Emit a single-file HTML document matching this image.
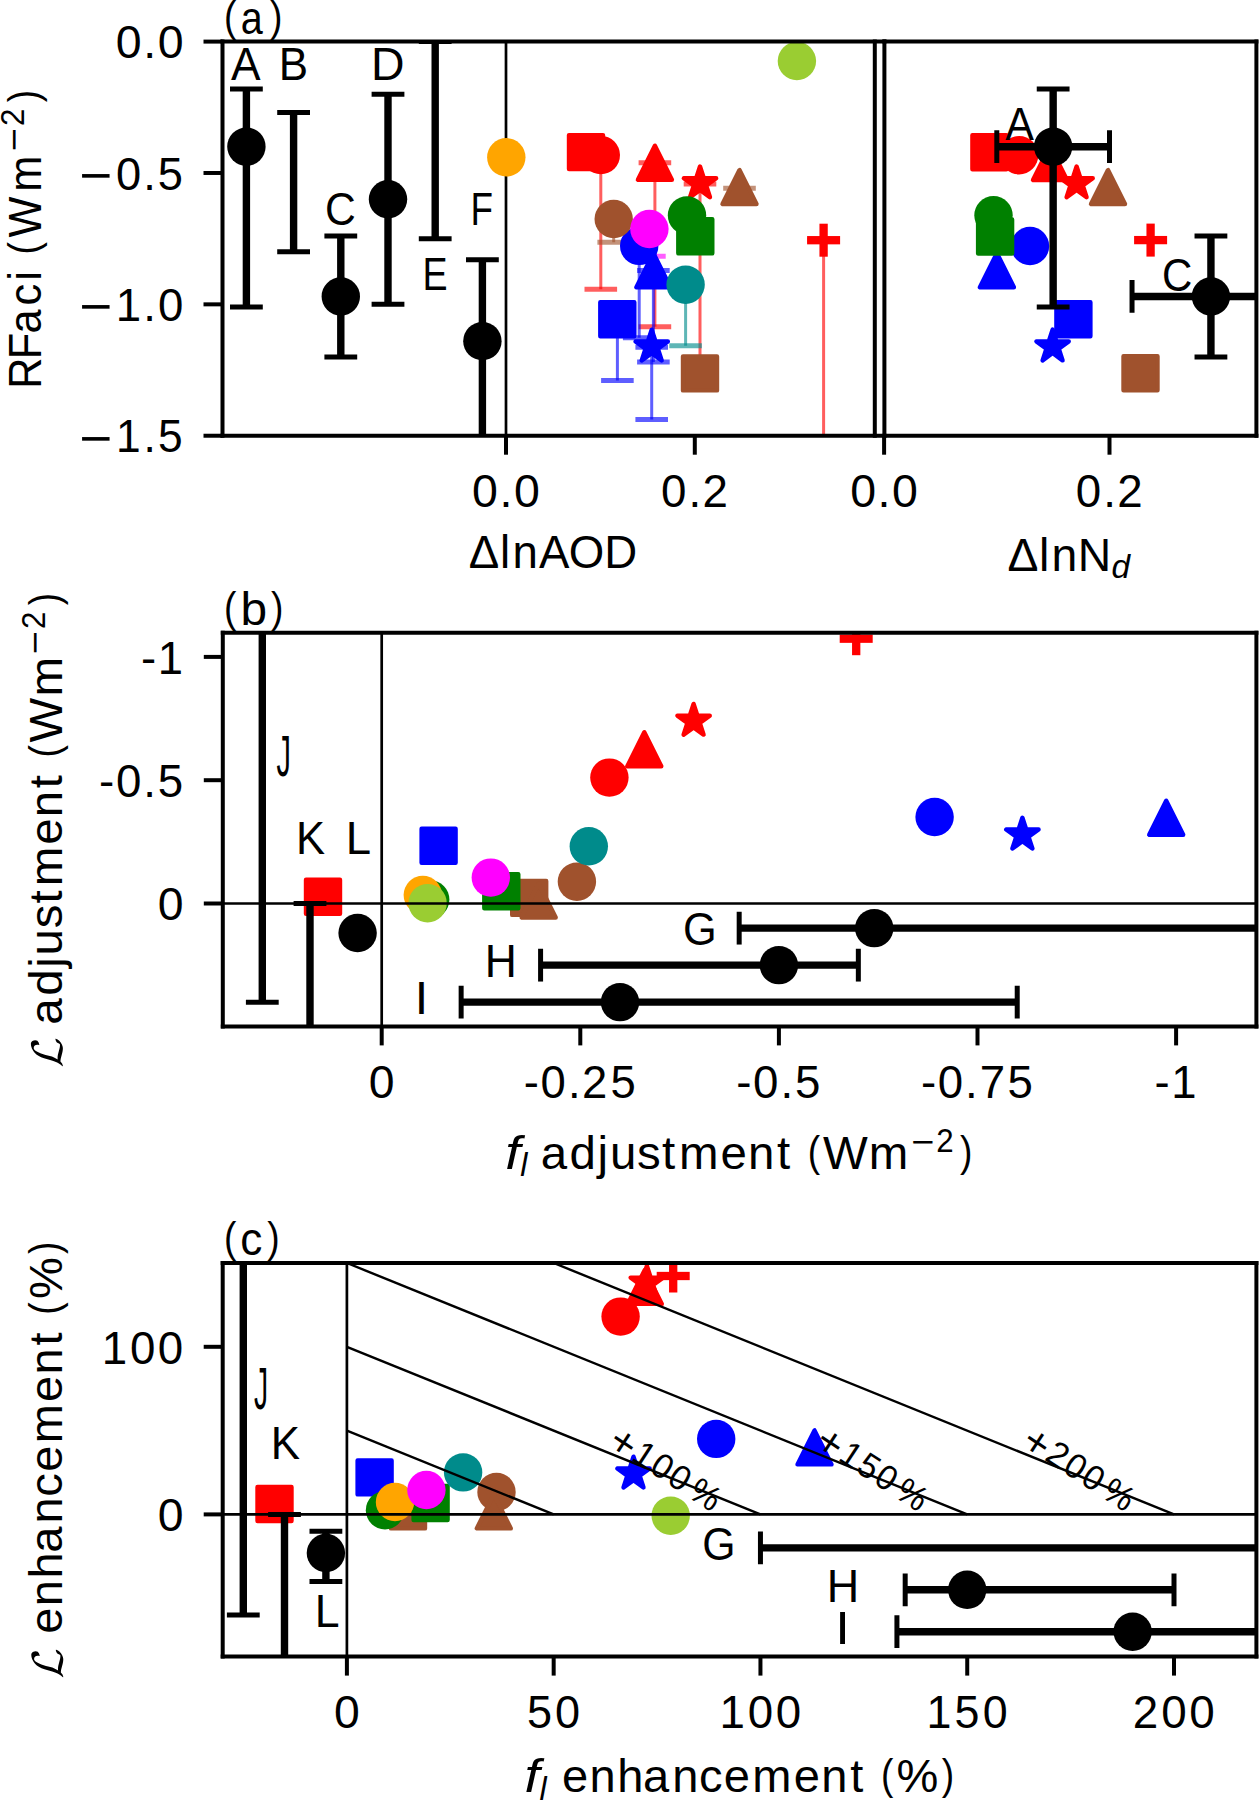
<!DOCTYPE html>
<html><head><meta charset="utf-8"><title>Figure</title><style>html,body{margin:0;padding:0;background:#fff;}svg{display:block;}text{font-family:"Liberation Sans",sans-serif;}</style></head><body>
<svg width="1259" height="1800" viewBox="0 0 1259 1800" font-family="'Liberation Sans', sans-serif" style="font-kerning:none"><defs><clipPath id="c1"><rect x="222.5" y="41.6" width="652.3" height="394.1"/></clipPath><clipPath id="c2"><rect x="884.4" y="41.6" width="372" height="394.1"/></clipPath><clipPath id="c3"><rect x="222.8" y="632.8" width="1033.6" height="393.6"/></clipPath><clipPath id="c4"><rect x="222.7" y="1263" width="1033.7" height="393.6"/></clipPath></defs><rect width="100%" height="100%" fill="#fff"/><g clip-path="url(#c1)"><line x1="506" y1="41.6" x2="506" y2="435.7" stroke="#000" stroke-width="2.7" stroke-linecap="butt"/><line x1="600.8" y1="155.1" x2="600.8" y2="289.2" stroke="#ff0000" stroke-width="3" stroke-linecap="butt" stroke-opacity="0.63"/><line x1="584.5" y1="289.2" x2="617.1" y2="289.2" stroke="#ff0000" stroke-width="5" stroke-linecap="butt" stroke-opacity="0.63"/><line x1="654.9" y1="162.8" x2="654.9" y2="326.8" stroke="#ff0000" stroke-width="3" stroke-linecap="butt" stroke-opacity="0.63"/><line x1="638.6" y1="162.7" x2="671.2" y2="162.7" stroke="#ff0000" stroke-width="5" stroke-linecap="butt" stroke-opacity="0.63"/><line x1="638.6" y1="326.8" x2="671.2" y2="326.8" stroke="#ff0000" stroke-width="5" stroke-linecap="butt" stroke-opacity="0.63"/><line x1="700" y1="183.5" x2="700" y2="373" stroke="#ff0000" stroke-width="3" stroke-linecap="butt" stroke-opacity="0.63"/><line x1="683.7" y1="183.9" x2="716.3" y2="183.9" stroke="#ff0000" stroke-width="5" stroke-linecap="butt" stroke-opacity="0.63"/><line x1="683.7" y1="373" x2="716.3" y2="373" stroke="#ff0000" stroke-width="5" stroke-linecap="butt" stroke-opacity="0.63"/><line x1="823.6" y1="240.2" x2="823.6" y2="460" stroke="#ff0000" stroke-width="3" stroke-linecap="butt" stroke-opacity="0.63"/><line x1="807.3" y1="240.2" x2="839.9" y2="240.2" stroke="#ff0000" stroke-width="5" stroke-linecap="butt" stroke-opacity="0.63"/><line x1="639.2" y1="245.9" x2="639.2" y2="337.8" stroke="#0000ff" stroke-width="3" stroke-linecap="butt" stroke-opacity="0.63"/><line x1="622.9" y1="337.8" x2="655.5" y2="337.8" stroke="#0000ff" stroke-width="5" stroke-linecap="butt" stroke-opacity="0.63"/><line x1="617.4" y1="319.3" x2="617.4" y2="380.6" stroke="#0000ff" stroke-width="3" stroke-linecap="butt" stroke-opacity="0.63"/><line x1="601.1" y1="380.6" x2="633.7" y2="380.6" stroke="#0000ff" stroke-width="5" stroke-linecap="butt" stroke-opacity="0.63"/><line x1="653.4" y1="270.2" x2="653.4" y2="362" stroke="#0000ff" stroke-width="3" stroke-linecap="butt" stroke-opacity="0.63"/><line x1="637.1" y1="270.4" x2="669.7" y2="270.4" stroke="#0000ff" stroke-width="5" stroke-linecap="butt" stroke-opacity="0.63"/><line x1="637.1" y1="362" x2="669.7" y2="362" stroke="#0000ff" stroke-width="5" stroke-linecap="butt" stroke-opacity="0.63"/><line x1="651.7" y1="346.7" x2="651.7" y2="419.5" stroke="#0000ff" stroke-width="3" stroke-linecap="butt" stroke-opacity="0.63"/><line x1="635.4" y1="347.3" x2="668" y2="347.3" stroke="#0000ff" stroke-width="5" stroke-linecap="butt" stroke-opacity="0.63"/><line x1="635.4" y1="419.5" x2="668" y2="419.5" stroke="#0000ff" stroke-width="5" stroke-linecap="butt" stroke-opacity="0.63"/><line x1="613.7" y1="219" x2="613.7" y2="242.3" stroke="#a0522d" stroke-width="3" stroke-linecap="butt" stroke-opacity="0.63"/><line x1="597.4" y1="242.3" x2="630" y2="242.3" stroke="#a0522d" stroke-width="5" stroke-linecap="butt" stroke-opacity="0.63"/><line x1="739.5" y1="187.1" x2="739.5" y2="187.1" stroke="#a0522d" stroke-width="3" stroke-linecap="butt" stroke-opacity="0.63"/><line x1="723.2" y1="188.2" x2="755.8" y2="188.2" stroke="#a0522d" stroke-width="5" stroke-linecap="butt" stroke-opacity="0.63"/><line x1="649.4" y1="229" x2="649.4" y2="256.3" stroke="#ff00ff" stroke-width="3" stroke-linecap="butt" stroke-opacity="0.63"/><line x1="633.1" y1="256.3" x2="665.7" y2="256.3" stroke="#ff00ff" stroke-width="5" stroke-linecap="butt" stroke-opacity="0.63"/><line x1="685.6" y1="284.7" x2="685.6" y2="345.8" stroke="#008b8b" stroke-width="3" stroke-linecap="butt" stroke-opacity="0.63"/><line x1="669.3" y1="345.8" x2="701.9" y2="345.8" stroke="#008b8b" stroke-width="5" stroke-linecap="butt" stroke-opacity="0.63"/><rect x="569" y="135.1" width="34" height="34" fill="#ff0000" stroke="#ff0000" stroke-width="4.4" stroke-linejoin="round"/><circle cx="600.8" cy="155.1" r="19.2" fill="#ff0000"/><polygon points="654.9,145.8 637.9,179.8 671.9,179.8" fill="#ff0000" stroke="#ff0000" stroke-width="4.4" stroke-linejoin="round"/><polygon points="700,166.5 703.82,178.25 716.17,178.25 706.18,185.51 709.99,197.25 700,189.99 690.01,197.25 693.82,185.51 683.83,178.25 696.18,178.25" fill="#ff0000" stroke="#ff0000" stroke-width="4.4" stroke-linejoin="round"/><rect x="807.1" y="236.05" width="33" height="8.3" fill="#ff0000"/><rect x="819.45" y="223.7" width="8.3" height="33" fill="#ff0000"/><circle cx="639.2" cy="245.9" r="19.2" fill="#0000ff"/><rect x="600.3" y="302.3" width="34" height="34" fill="#0000ff" stroke="#0000ff" stroke-width="4.4" stroke-linejoin="round"/><polygon points="653.4,253.2 636.4,287.2 670.4,287.2" fill="#0000ff" stroke="#0000ff" stroke-width="4.4" stroke-linejoin="round"/><polygon points="651.7,329.7 655.52,341.45 667.87,341.45 657.88,348.71 661.69,360.45 651.7,353.19 641.71,360.45 645.52,348.71 635.53,341.45 647.88,341.45" fill="#0000ff" stroke="#0000ff" stroke-width="4.4" stroke-linejoin="round"/><circle cx="613.7" cy="219" r="19.2" fill="#a0522d"/><polygon points="739.5,170.1 722.5,204.1 756.5,204.1" fill="#a0522d" stroke="#a0522d" stroke-width="4.4" stroke-linejoin="round"/><rect x="683" y="356.4" width="34" height="34" fill="#a0522d" stroke="#a0522d" stroke-width="4.4" stroke-linejoin="round"/><circle cx="687" cy="215.4" r="19.2" fill="#008000"/><rect x="678.3" y="219.3" width="34" height="34" fill="#008000" stroke="#008000" stroke-width="4.4" stroke-linejoin="round"/><circle cx="506.3" cy="157.3" r="19.2" fill="#ffa500"/><circle cx="649.4" cy="229" r="19.2" fill="#ff00ff"/><circle cx="685.6" cy="284.7" r="19.2" fill="#008b8b"/><circle cx="796.9" cy="61" r="19.2" fill="#9acd32"/><line x1="246.4" y1="88.9" x2="246.4" y2="306.98" stroke="#000" stroke-width="7.4" stroke-linecap="butt"/><line x1="230" y1="88.9" x2="262.8" y2="88.9" stroke="#000" stroke-width="5" stroke-linecap="butt"/><line x1="230" y1="306.98" x2="262.8" y2="306.98" stroke="#000" stroke-width="5" stroke-linecap="butt"/><circle cx="246.4" cy="146.7" r="19.2" fill="#000"/><line x1="293.6" y1="112.54" x2="293.6" y2="251.8" stroke="#000" stroke-width="7.4" stroke-linecap="butt"/><line x1="277.2" y1="112.54" x2="310" y2="112.54" stroke="#000" stroke-width="5" stroke-linecap="butt"/><line x1="277.2" y1="251.8" x2="310" y2="251.8" stroke="#000" stroke-width="5" stroke-linecap="butt"/><line x1="340.8" y1="236.03" x2="340.8" y2="356.9" stroke="#000" stroke-width="7.4" stroke-linecap="butt"/><line x1="324.4" y1="236.03" x2="357.2" y2="236.03" stroke="#000" stroke-width="5" stroke-linecap="butt"/><line x1="324.4" y1="356.9" x2="357.2" y2="356.9" stroke="#000" stroke-width="5" stroke-linecap="butt"/><circle cx="340.8" cy="296.47" r="19.2" fill="#000"/><line x1="388" y1="94.15" x2="388" y2="304.35" stroke="#000" stroke-width="7.4" stroke-linecap="butt"/><line x1="371.6" y1="94.15" x2="404.4" y2="94.15" stroke="#000" stroke-width="5" stroke-linecap="butt"/><line x1="371.6" y1="304.35" x2="404.4" y2="304.35" stroke="#000" stroke-width="5" stroke-linecap="butt"/><circle cx="388" cy="199.25" r="19.2" fill="#000"/><line x1="435.2" y1="41.6" x2="435.2" y2="238.66" stroke="#000" stroke-width="7.4" stroke-linecap="butt"/><line x1="418.8" y1="41.6" x2="451.6" y2="41.6" stroke="#000" stroke-width="5" stroke-linecap="butt"/><line x1="418.8" y1="238.66" x2="451.6" y2="238.66" stroke="#000" stroke-width="5" stroke-linecap="butt"/><line x1="482.4" y1="259.68" x2="482.4" y2="462" stroke="#000" stroke-width="7.4" stroke-linecap="butt"/><line x1="466" y1="259.68" x2="498.8" y2="259.68" stroke="#000" stroke-width="5" stroke-linecap="butt"/><circle cx="482.4" cy="341.13" r="19.2" fill="#000"/></g>
<g clip-path="url(#c2)"><rect x="972.4" y="135.2" width="34" height="34" fill="#ff0000" stroke="#ff0000" stroke-width="4.4" stroke-linejoin="round"/><circle cx="1019.1" cy="155.2" r="19.2" fill="#ff0000"/><polygon points="1050,146 1033,180 1067,180" fill="#ff0000" stroke="#ff0000" stroke-width="4.4" stroke-linejoin="round"/><polygon points="1076.6,166.5 1080.42,178.25 1092.77,178.25 1082.78,185.51 1086.59,197.25 1076.6,189.99 1066.61,197.25 1070.42,185.51 1060.43,178.25 1072.78,178.25" fill="#ff0000" stroke="#ff0000" stroke-width="4.4" stroke-linejoin="round"/><rect x="1134.1" y="235.95" width="33" height="8.3" fill="#ff0000"/><rect x="1146.45" y="223.6" width="8.3" height="33" fill="#ff0000"/><circle cx="1030" cy="246" r="19.2" fill="#0000ff"/><polygon points="996.9,253.2 979.9,287.2 1013.9,287.2" fill="#0000ff" stroke="#0000ff" stroke-width="4.4" stroke-linejoin="round"/><rect x="1056.4" y="302.3" width="34" height="34" fill="#0000ff" stroke="#0000ff" stroke-width="4.4" stroke-linejoin="round"/><polygon points="1052.6,329.6 1056.42,341.35 1068.77,341.35 1058.78,348.61 1062.59,360.35 1052.6,353.09 1042.61,360.35 1046.42,348.61 1036.43,341.35 1048.78,341.35" fill="#0000ff" stroke="#0000ff" stroke-width="4.4" stroke-linejoin="round"/><polygon points="1108,170.1 1091,204.1 1125,204.1" fill="#a0522d" stroke="#a0522d" stroke-width="4.4" stroke-linejoin="round"/><rect x="1123.5" y="356.3" width="34" height="34" fill="#a0522d" stroke="#a0522d" stroke-width="4.4" stroke-linejoin="round"/><circle cx="993.5" cy="215.3" r="19.2" fill="#008000"/><rect x="978.1" y="219.5" width="34" height="34" fill="#008000" stroke="#008000" stroke-width="4.4" stroke-linejoin="round"/><line x1="1053.15" y1="88.9" x2="1053.15" y2="306.98" stroke="#000" stroke-width="7.4" stroke-linecap="butt"/><line x1="1036.75" y1="88.9" x2="1069.55" y2="88.9" stroke="#000" stroke-width="5" stroke-linecap="butt"/><line x1="1036.75" y1="306.98" x2="1069.55" y2="306.98" stroke="#000" stroke-width="5" stroke-linecap="butt"/><line x1="996.8" y1="146.7" x2="1109.5" y2="146.7" stroke="#000" stroke-width="7.4" stroke-linecap="butt"/><line x1="996.8" y1="130.3" x2="996.8" y2="163.1" stroke="#000" stroke-width="5" stroke-linecap="butt"/><line x1="1109.5" y1="130.3" x2="1109.5" y2="163.1" stroke="#000" stroke-width="5" stroke-linecap="butt"/><circle cx="1053.15" cy="146.7" r="19.2" fill="#000"/><line x1="1210.93" y1="236.03" x2="1210.93" y2="356.9" stroke="#000" stroke-width="7.4" stroke-linecap="butt"/><line x1="1194.53" y1="236.03" x2="1227.33" y2="236.03" stroke="#000" stroke-width="5" stroke-linecap="butt"/><line x1="1194.53" y1="356.9" x2="1227.33" y2="356.9" stroke="#000" stroke-width="5" stroke-linecap="butt"/><line x1="1132.04" y1="296.47" x2="1289.82" y2="296.47" stroke="#000" stroke-width="7.4" stroke-linecap="butt"/><line x1="1132.04" y1="280.07" x2="1132.04" y2="312.87" stroke="#000" stroke-width="5" stroke-linecap="butt"/><circle cx="1210.93" cy="296.47" r="19.2" fill="#000"/></g>
<line x1="222.5" y1="39.6" x2="222.5" y2="437.7" stroke="#000" stroke-width="4" stroke-linecap="butt"/><line x1="220.5" y1="41.6" x2="886.4" y2="41.6" stroke="#000" stroke-width="4" stroke-linecap="butt"/><line x1="220.5" y1="435.7" x2="886.4" y2="435.7" stroke="#000" stroke-width="4" stroke-linecap="butt"/>
<line x1="874.8" y1="39.6" x2="874.8" y2="437.7" stroke="#000" stroke-width="4" stroke-linecap="butt"/>
<line x1="884.4" y1="39.6" x2="884.4" y2="437.7" stroke="#000" stroke-width="4" stroke-linecap="butt"/><line x1="1256.4" y1="39.6" x2="1256.4" y2="437.7" stroke="#000" stroke-width="4" stroke-linecap="butt"/><line x1="882.4" y1="41.6" x2="1258.4" y2="41.6" stroke="#000" stroke-width="4" stroke-linecap="butt"/><line x1="882.4" y1="435.7" x2="1258.4" y2="435.7" stroke="#000" stroke-width="4" stroke-linecap="butt"/>
<line x1="203.5" y1="41.6" x2="222.5" y2="41.6" stroke="#000" stroke-width="4" stroke-linecap="butt"/><text transform="translate(0 58.30) scale(0.9972 1)" x="116.00 143.53 158.10" font-size="46.62">0.0</text>
<line x1="203.5" y1="172.97" x2="222.5" y2="172.97" stroke="#000" stroke-width="4" stroke-linecap="butt"/><text transform="translate(79.62 192.92) scale(1.2160 1.0989)" font-size="46.62">−</text><text transform="translate(0 189.67) scale(0.9719 1)" x="119.36 147.44 162.38" font-size="46.62">0.5</text>
<line x1="203.5" y1="304.35" x2="222.5" y2="304.35" stroke="#000" stroke-width="4" stroke-linecap="butt"/><text transform="translate(79.62 324.29) scale(1.2160 1.0989)" font-size="46.62">−</text><text transform="translate(0 321.05) scale(0.9782 1)" x="118.29 146.45 161.44" font-size="46.62">1.0</text>
<line x1="203.5" y1="435.73" x2="222.5" y2="435.73" stroke="#000" stroke-width="4" stroke-linecap="butt"/><text transform="translate(79.62 455.67) scale(1.2160 1.0989)" font-size="46.62">−</text><text transform="translate(0 452.43) scale(0.9516 1)" x="121.97 150.72 166.13" font-size="46.62">1.5</text>
<line x1="506" y1="435.7" x2="506" y2="454.7" stroke="#000" stroke-width="4" stroke-linecap="butt"/><text transform="translate(0 507.00) scale(0.9972 1)" x="473.38 500.90 515.48" font-size="46.62">0.0</text>
<line x1="694.8" y1="435.7" x2="694.8" y2="454.7" stroke="#000" stroke-width="4" stroke-linecap="butt"/><text transform="translate(0 507.00) scale(0.9814 1)" x="673.62 701.48 715.80" font-size="46.62">0.2</text>
<line x1="884.1" y1="435.7" x2="884.1" y2="454.7" stroke="#000" stroke-width="4" stroke-linecap="butt"/><text transform="translate(0 507.00) scale(0.9972 1)" x="852.53 880.05 894.62" font-size="46.62">0.0</text>
<line x1="1109.5" y1="435.7" x2="1109.5" y2="454.7" stroke="#000" stroke-width="4" stroke-linecap="butt"/><text transform="translate(0 507.00) scale(0.9814 1)" x="1096.18 1124.05 1138.37" font-size="46.62">0.2</text>
<text transform="translate(231.01 79.70) scale(0.9510 1.0000)" font-size="46.62">A</text>
<text transform="translate(278.79 79.70) scale(0.9430 1.0000)" font-size="46.62">B</text>
<text transform="translate(371.09 79.70) scale(0.9959 1.0000)" font-size="46.62">D</text>
<text transform="translate(325.04 224.60) scale(0.9145 1.0000)" font-size="46.62">C</text>
<text transform="translate(470.48 224.60) scale(0.7899 1.0000)" font-size="46.62">F</text>
<text transform="translate(422.51 290.00) scale(0.8073 1.0000)" font-size="46.62">E</text>
<text transform="translate(1005.32 140.00) scale(0.9219 1.0000)" font-size="46.62">A</text>
<text transform="translate(1162.07 290.70) scale(0.9009 1.0000)" font-size="46.62">C</text>
<g clip-path="url(#c3)"><circle cx="609.4" cy="777.6" r="19.2" fill="#ff0000"/><polygon points="644.3,732.3 627.3,766.3 661.3,766.3" fill="#ff0000" stroke="#ff0000" stroke-width="4.4" stroke-linejoin="round"/><polygon points="693.6,703.9 697.42,715.65 709.77,715.65 699.78,722.91 703.59,734.65 693.6,727.39 683.61,734.65 687.42,722.91 677.43,715.65 689.78,715.65" fill="#ff0000" stroke="#ff0000" stroke-width="4.4" stroke-linejoin="round"/><rect x="839.7" y="634.55" width="33" height="8.3" fill="#ff0000"/><rect x="852.05" y="622.2" width="8.3" height="33" fill="#ff0000"/><rect x="306" y="879.7" width="34" height="34" fill="#ff0000" stroke="#ff0000" stroke-width="4.4" stroke-linejoin="round"/><rect x="421.6" y="828.7" width="34" height="34" fill="#0000ff" stroke="#0000ff" stroke-width="4.4" stroke-linejoin="round"/><circle cx="934.6" cy="817" r="19.2" fill="#0000ff"/><polygon points="1022.4,817.8 1026.22,829.55 1038.57,829.55 1028.58,836.81 1032.39,848.55 1022.4,841.29 1012.41,848.55 1016.22,836.81 1006.23,829.55 1018.58,829.55" fill="#0000ff" stroke="#0000ff" stroke-width="4.4" stroke-linejoin="round"/><polygon points="1166.2,800.7 1149.2,834.7 1183.2,834.7" fill="#0000ff" stroke="#0000ff" stroke-width="4.4" stroke-linejoin="round"/><rect x="512.2" y="880.9" width="34" height="34" fill="#a0522d" stroke="#a0522d" stroke-width="4.4" stroke-linejoin="round"/><polygon points="538.7,883.6 521.7,917.6 555.7,917.6" fill="#a0522d" stroke="#a0522d" stroke-width="4.4" stroke-linejoin="round"/><circle cx="576.9" cy="881.7" r="19.2" fill="#a0522d"/><circle cx="430.2" cy="899.6" r="19.2" fill="#008000"/><rect x="484.3" y="874.2" width="34" height="34" fill="#008000" stroke="#008000" stroke-width="4.4" stroke-linejoin="round"/><circle cx="422.8" cy="895" r="19.2" fill="#ffa500"/><circle cx="490.8" cy="877.6" r="19.2" fill="#ff00ff"/><circle cx="588.8" cy="846.3" r="19.2" fill="#008b8b"/><circle cx="427.6" cy="903.2" r="19.2" fill="#9acd32"/><circle cx="357.6" cy="933" r="19.2" fill="#000"/><line x1="739.18" y1="928.16" x2="1414.42" y2="928.16" stroke="#000" stroke-width="7.4" stroke-linecap="butt"/><line x1="739.18" y1="911.76" x2="739.18" y2="944.56" stroke="#000" stroke-width="5" stroke-linecap="butt"/><circle cx="874.23" cy="928.16" r="19.2" fill="#000"/><line x1="540.58" y1="965.15" x2="858.34" y2="965.15" stroke="#000" stroke-width="7.4" stroke-linecap="butt"/><line x1="540.58" y1="948.75" x2="540.58" y2="981.55" stroke="#000" stroke-width="5" stroke-linecap="butt"/><line x1="858.34" y1="948.75" x2="858.34" y2="981.55" stroke="#000" stroke-width="5" stroke-linecap="butt"/><circle cx="778.9" cy="965.15" r="19.2" fill="#000"/><line x1="461.14" y1="1002.14" x2="1017.22" y2="1002.14" stroke="#000" stroke-width="7.4" stroke-linecap="butt"/><line x1="461.14" y1="985.74" x2="461.14" y2="1018.54" stroke="#000" stroke-width="5" stroke-linecap="butt"/><line x1="1017.22" y1="985.74" x2="1017.22" y2="1018.54" stroke="#000" stroke-width="5" stroke-linecap="butt"/><circle cx="620.02" cy="1002.14" r="19.2" fill="#000"/><line x1="262.3" y1="622.8" x2="262.3" y2="1002.14" stroke="#000" stroke-width="7.4" stroke-linecap="butt"/><line x1="245.9" y1="1002.14" x2="278.7" y2="1002.14" stroke="#000" stroke-width="5" stroke-linecap="butt"/><line x1="310" y1="903.5" x2="310" y2="1036.4" stroke="#000" stroke-width="7.4" stroke-linecap="butt"/><line x1="293.6" y1="903.5" x2="326.4" y2="903.5" stroke="#000" stroke-width="5" stroke-linecap="butt"/><line x1="222.8" y1="903.5" x2="1256.4" y2="903.5" stroke="#000" stroke-width="2.7" stroke-linecap="butt"/><line x1="381.7" y1="632.8" x2="381.7" y2="1026.4" stroke="#000" stroke-width="2.7" stroke-linecap="butt"/></g>
<line x1="222.8" y1="630.8" x2="222.8" y2="1028.4" stroke="#000" stroke-width="4" stroke-linecap="butt"/><line x1="1256.4" y1="630.8" x2="1256.4" y2="1028.4" stroke="#000" stroke-width="4" stroke-linecap="butt"/><line x1="220.8" y1="632.8" x2="1258.4" y2="632.8" stroke="#000" stroke-width="4" stroke-linecap="butt"/><line x1="220.8" y1="1026.4" x2="1258.4" y2="1026.4" stroke="#000" stroke-width="4" stroke-linecap="butt"/>
<line x1="203.8" y1="656.9" x2="222.8" y2="656.9" stroke="#000" stroke-width="4" stroke-linecap="butt"/><text transform="translate(0 673.60) scale(0.9745 1)" x="144.80 161.87" y="0.33 0.00" font-size="46.62">-1</text>
<line x1="203.8" y1="780.2" x2="222.8" y2="780.2" stroke="#000" stroke-width="4" stroke-linecap="butt"/><text transform="translate(0 796.90) scale(0.9805 1)" x="101.04 118.20 146.09 160.85" y="0.33 0.00 0.00 0.00" font-size="46.62">-0.5</text>
<line x1="203.8" y1="903.5" x2="222.8" y2="903.5" stroke="#000" stroke-width="4" stroke-linecap="butt"/><text transform="translate(0 920.20) scale(0.9949 1)" x="158.51" font-size="46.62">0</text>
<line x1="381.7" y1="1026.4" x2="381.7" y2="1045.4" stroke="#000" stroke-width="4" stroke-linecap="butt"/><text transform="translate(0 1097.80) scale(0.9949 1)" x="370.70" font-size="46.62">0</text>
<line x1="580.3" y1="1026.4" x2="580.3" y2="1045.4" stroke="#000" stroke-width="4" stroke-linecap="butt"/><text transform="translate(0 1097.80) scale(0.9749 1)" x="537.24 554.53 582.54 597.00 626.13" y="0.33 0.00 0.00 0.00 0.00" font-size="46.62">-0.25</text>
<line x1="778.9" y1="1026.4" x2="778.9" y2="1045.4" stroke="#000" stroke-width="4" stroke-linecap="butt"/><text transform="translate(0 1097.80) scale(0.9805 1)" x="750.94 768.10 795.98 810.74" y="0.33 0.00 0.00 0.00" font-size="46.62">-0.5</text>
<line x1="977.5" y1="1026.4" x2="977.5" y2="1045.4" stroke="#000" stroke-width="4" stroke-linecap="butt"/><text transform="translate(0 1097.80) scale(0.9786 1)" x="941.06 958.26 986.19 1001.07 1029.60" y="0.33 0.00 0.00 0.00 0.00" font-size="46.62">-0.75</text>
<line x1="1176.1" y1="1026.4" x2="1176.1" y2="1045.4" stroke="#000" stroke-width="4" stroke-linecap="butt"/><text transform="translate(0 1097.80) scale(0.9745 1)" x="1184.79 1201.86" y="0.33 0.00" font-size="46.62">-1</text>
<text transform="translate(276.45 775.64) scale(0.6171 1.2388)" font-size="46.62">J</text>
<text transform="translate(295.93 854.10) scale(0.9346 1.0000)" font-size="46.62">K</text>
<text transform="translate(345.76 854.10) scale(0.9778 1.0000)" font-size="46.62">L</text>
<text transform="translate(683.02 945.20) scale(0.9298 1.0000)" font-size="46.62">G</text>
<text transform="translate(484.76 976.90) scale(0.9523 1.0000)" font-size="46.62">H</text>
<text transform="translate(414.85 1014.20) scale(1.0349 1.0000)" font-size="46.62">I</text>
<g clip-path="url(#c4)"><circle cx="620.6" cy="1316.6" r="19.2" fill="#ff0000"/><polygon points="644.8,1269.9 627.8,1303.9 661.8,1303.9" fill="#ff0000" stroke="#ff0000" stroke-width="4.4" stroke-linejoin="round"/><polygon points="646.9,1265.9 650.72,1277.65 663.07,1277.65 653.08,1284.91 656.89,1296.65 646.9,1289.39 636.91,1296.65 640.72,1284.91 630.73,1277.65 643.08,1277.65" fill="#ff0000" stroke="#ff0000" stroke-width="4.4" stroke-linejoin="round"/><rect x="656.7" y="1271.85" width="33" height="8.3" fill="#ff0000"/><rect x="669.05" y="1259.5" width="8.3" height="33" fill="#ff0000"/><rect x="257.5" y="1487" width="34" height="34" fill="#ff0000" stroke="#ff0000" stroke-width="4.4" stroke-linejoin="round"/><rect x="357.6" y="1460.4" width="34" height="34" fill="#0000ff" stroke="#0000ff" stroke-width="4.4" stroke-linejoin="round"/><circle cx="716.2" cy="1438.9" r="19.2" fill="#0000ff"/><polygon points="633.5,1456.7 637.32,1468.45 649.67,1468.45 639.68,1475.71 643.49,1487.45 633.5,1480.19 623.51,1487.45 627.32,1475.71 617.33,1468.45 629.68,1468.45" fill="#0000ff" stroke="#0000ff" stroke-width="4.4" stroke-linejoin="round"/><polygon points="814.5,1430.4 797.5,1464.4 831.5,1464.4" fill="#0000ff" stroke="#0000ff" stroke-width="4.4" stroke-linejoin="round"/><rect x="391" y="1494.4" width="34" height="34" fill="#a0522d" stroke="#a0522d" stroke-width="4.4" stroke-linejoin="round"/><circle cx="496.5" cy="1492" r="19.2" fill="#a0522d"/><polygon points="493.8,1494.4 476.8,1528.4 510.8,1528.4" fill="#a0522d" stroke="#a0522d" stroke-width="4.4" stroke-linejoin="round"/><circle cx="385" cy="1510.2" r="19.2" fill="#008000"/><rect x="413.6" y="1486" width="34" height="34" fill="#008000" stroke="#008000" stroke-width="4.4" stroke-linejoin="round"/><circle cx="395" cy="1502" r="19.2" fill="#ffa500"/><circle cx="426.4" cy="1490" r="19.2" fill="#ff00ff"/><circle cx="463.1" cy="1472.4" r="19.2" fill="#008b8b"/><circle cx="670.7" cy="1515.7" r="19.2" fill="#9acd32"/><line x1="325.9" y1="1531.3" x2="325.9" y2="1581.4" stroke="#000" stroke-width="7.4" stroke-linecap="butt"/><line x1="309.5" y1="1531.3" x2="342.3" y2="1531.3" stroke="#000" stroke-width="5" stroke-linecap="butt"/><line x1="309.5" y1="1581.4" x2="342.3" y2="1581.4" stroke="#000" stroke-width="5" stroke-linecap="butt"/><circle cx="325.9" cy="1553" r="19.2" fill="#000"/><line x1="760.45" y1="1547.92" x2="1422.13" y2="1547.92" stroke="#000" stroke-width="7.4" stroke-linecap="butt"/><line x1="760.45" y1="1531.52" x2="760.45" y2="1564.32" stroke="#000" stroke-width="5" stroke-linecap="butt"/><line x1="905.19" y1="1589.82" x2="1174" y2="1589.82" stroke="#000" stroke-width="7.4" stroke-linecap="butt"/><line x1="905.19" y1="1573.42" x2="905.19" y2="1606.22" stroke="#000" stroke-width="5" stroke-linecap="butt"/><line x1="1174" y1="1573.42" x2="1174" y2="1606.22" stroke="#000" stroke-width="5" stroke-linecap="butt"/><circle cx="967.23" cy="1589.82" r="19.2" fill="#000"/><line x1="896.92" y1="1631.72" x2="1422.13" y2="1631.72" stroke="#000" stroke-width="7.4" stroke-linecap="butt"/><line x1="896.92" y1="1615.32" x2="896.92" y2="1648.12" stroke="#000" stroke-width="5" stroke-linecap="butt"/><circle cx="1132.64" cy="1631.72" r="19.2" fill="#000"/><line x1="243.3" y1="1253" x2="243.3" y2="1614.96" stroke="#000" stroke-width="7.4" stroke-linecap="butt"/><line x1="226.9" y1="1614.96" x2="259.7" y2="1614.96" stroke="#000" stroke-width="5" stroke-linecap="butt"/><line x1="284.5" y1="1514.4" x2="284.5" y2="1666.6" stroke="#000" stroke-width="7.4" stroke-linecap="butt"/><line x1="268.1" y1="1514.4" x2="300.9" y2="1514.4" stroke="#000" stroke-width="5" stroke-linecap="butt"/><line x1="346.9" y1="1430.6" x2="553.67" y2="1514.4" stroke="#000" stroke-width="2.4" stroke-linecap="butt"/><line x1="346.9" y1="1346.8" x2="760.45" y2="1514.4" stroke="#000" stroke-width="2.4" stroke-linecap="butt"/><line x1="346.9" y1="1263" x2="967.23" y2="1514.4" stroke="#000" stroke-width="2.4" stroke-linecap="butt"/><line x1="553.67" y1="1263" x2="1174" y2="1514.4" stroke="#000" stroke-width="2.4" stroke-linecap="butt"/><line x1="222.7" y1="1514.4" x2="1256.4" y2="1514.4" stroke="#000" stroke-width="2.7" stroke-linecap="butt"/><line x1="346.9" y1="1263" x2="346.9" y2="1656.6" stroke="#000" stroke-width="2.7" stroke-linecap="butt"/></g>
<line x1="222.7" y1="1261" x2="222.7" y2="1658.6" stroke="#000" stroke-width="4" stroke-linecap="butt"/><line x1="1256.4" y1="1261" x2="1256.4" y2="1658.6" stroke="#000" stroke-width="4" stroke-linecap="butt"/><line x1="220.7" y1="1263" x2="1258.4" y2="1263" stroke="#000" stroke-width="4" stroke-linecap="butt"/><line x1="220.7" y1="1656.6" x2="1258.4" y2="1656.6" stroke="#000" stroke-width="4" stroke-linecap="butt"/>
<line x1="203.7" y1="1346.8" x2="222.7" y2="1346.8" stroke="#000" stroke-width="4" stroke-linecap="butt"/><text transform="translate(0 1363.50) scale(0.9810 1)" x="103.63 132.40 160.94" font-size="46.62">100</text>
<line x1="203.7" y1="1514.4" x2="222.7" y2="1514.4" stroke="#000" stroke-width="4" stroke-linecap="butt"/><text transform="translate(0 1531.10) scale(0.9949 1)" x="158.51" font-size="46.62">0</text>
<line x1="346.9" y1="1656.6" x2="346.9" y2="1675.6" stroke="#000" stroke-width="4" stroke-linecap="butt"/><text transform="translate(0 1728.00) scale(0.9949 1)" x="335.72" font-size="46.62">0</text>
<line x1="553.67" y1="1656.6" x2="553.67" y2="1675.6" stroke="#000" stroke-width="4" stroke-linecap="butt"/><text transform="translate(0 1728.00) scale(0.9670 1)" x="544.95 574.08" font-size="46.62">50</text>
<line x1="760.45" y1="1656.6" x2="760.45" y2="1675.6" stroke="#000" stroke-width="4" stroke-linecap="butt"/><text transform="translate(0 1728.00) scale(0.9810 1)" x="733.46 762.23 790.77" font-size="46.62">100</text>
<line x1="967.23" y1="1656.6" x2="967.23" y2="1675.6" stroke="#000" stroke-width="4" stroke-linecap="butt"/><text transform="translate(0 1728.00) scale(0.9617 1)" x="963.39 992.54 1021.83" font-size="46.62">150</text>
<line x1="1174" y1="1656.6" x2="1174" y2="1675.6" stroke="#000" stroke-width="4" stroke-linecap="butt"/><text transform="translate(0 1728.00) scale(0.9833 1)" x="1151.95 1181.01 1209.48" font-size="46.62">200</text>
<text transform="translate(254.06 1408.93) scale(0.6066 1.2542)" font-size="46.62">J</text>
<text transform="translate(270.70 1459.00) scale(0.9421 1.0000)" font-size="46.62">K</text>
<text transform="translate(314.63 1627.20) scale(0.9583 1.0000)" font-size="46.62">L</text>
<text transform="translate(702.15 1559.50) scale(0.9167 1.0000)" font-size="46.62">G</text>
<text transform="translate(826.81 1602.10) scale(0.9638 1.0000)" font-size="46.62">H</text>
<text transform="translate(835.35 1643.60) scale(1.1269 1.0000)" font-size="46.62">I</text>
<g transform="translate(664.65 1468.5) rotate(33.2) translate(-62.31 11.18)"><text transform="translate(1.42 3.72) scale(1.2160 1.2094)" font-size="34.97">+</text><text transform="translate(0 0.00) scale(0.9810 1)" x="28.98 50.56 71.96" font-size="34.97">100</text><text transform="translate(0 0.00) scale(0.9691 1)" x="98.80" font-size="34.97">%</text></g>
<g transform="translate(871.4 1468.5) rotate(33.2) translate(-62.31 11.18)"><text transform="translate(1.42 3.72) scale(1.2160 1.2094)" font-size="34.97">+</text><text transform="translate(0 0.00) scale(0.9617 1)" x="29.77 51.63 73.60" font-size="34.97">150</text><text transform="translate(0 0.00) scale(0.9691 1)" x="98.80" font-size="34.97">%</text></g>
<g transform="translate(1078.15 1468.5) rotate(33.2) translate(-62.31 11.18)"><text transform="translate(1.42 3.72) scale(1.2160 1.2094)" font-size="34.97">+</text><text transform="translate(0 0.00) scale(0.9833 1)" x="28.62 50.42 71.77" font-size="34.97">200</text><text transform="translate(0 0.00) scale(0.9691 1)" x="98.80" font-size="34.97">%</text></g>
<text transform="translate(223.97 31.09) scale(0.7978 0.9022)" font-size="46.62">(</text><text transform="translate(269.93 31.09) scale(0.7978 0.9022)" font-size="46.62">)</text><text transform="translate(0 34.00) scale(0.8487 1)" x="283.54" font-size="46.62">a</text>
<text transform="translate(223.97 621.99) scale(0.7978 0.9022)" font-size="46.62">(</text><text transform="translate(270.90 621.99) scale(0.7978 0.9022)" font-size="46.62">)</text><text transform="translate(0 624.90) scale(1.0268 1)" x="234.31" font-size="46.62">b</text>
<text transform="translate(223.97 1252.39) scale(0.7978 0.9022)" font-size="46.62">(</text><text transform="translate(267.16 1252.39) scale(0.7978 0.9022)" font-size="46.62">)</text><text transform="translate(0 1255.30) scale(0.9470 1)" x="253.67" font-size="46.62">c</text>
<g transform="rotate(-90)"><text transform="translate(-254.50 37.99) scale(0.7978 0.9022)" font-size="46.62">(</text><text transform="translate(0 40.90) scale(0.9288 1)" x="-418.63 -386.79 -359.07 -329.04 -302.40 -290.66 -255.71 -206.49" font-size="46.62">RFaci Wm</text><text transform="translate(-151.13 26.37) scale(1.2160 1.0989)" font-size="32.64">−</text><text transform="translate(0 24.10) scale(0.9589 1)" x="-131.34" font-size="32.64">2</text><text transform="translate(-102.33 37.99) scale(0.7978 0.9022)" font-size="46.62">)</text></g>
<g transform="rotate(-90)"><path transform="translate(-1067.55 61.90) scale(0.02148 -0.02148)" d="M76 -45Q63 -45 63 -31Q63 -23 70 -12Q85 12 115.0 41.5Q145 71 158 88Q210 163 240 221Q292 329 330 469Q386 692 431.5 831.0Q477 970 551 1094Q609 1190 694.0 1269.5Q779 1349 882.5 1396.5Q986 1444 1094 1444H1106Q1159 1444 1195.0 1417.5Q1231 1391 1249.5 1346.5Q1268 1302 1268 1251Q1268 1173 1243 1143Q1172 1066 1075 1053H1063Q1051 1053 1051 1067Q1051 1069 1056.0 1098.0Q1061 1127 1061 1147Q1061 1213 1028.0 1262.0Q995 1311 930 1311Q854 1311 854 1298Q798 1259 746.5 1168.5Q695 1078 656.5 972.5Q618 867 588.0 760.5Q558 654 535 561Q510 460 470.5 367.5Q431 275 377 193Q401 201 436 201H449Q520 201 591.0 186.5Q662 172 761.0 144.0Q860 116 926.0 102.5Q992 89 1065 88Q1087 88 1101.0 108.0Q1115 128 1128.5 163.5Q1142 199 1151 211Q1182 245 1227.0 270.0Q1272 295 1317 301H1329Q1335 301 1339.0 297.0Q1343 293 1343 287Q1343 287 1341 281Q1321 201 1247.0 123.5Q1173 46 1078.5 0.5Q984 -45 905 -45H893Q822 -45 754.0 -32.0Q686 -19 587.0 9.0Q488 37 417.5 52.0Q347 67 276 68Q185 -32 88 -45Z"/><text transform="translate(-757.54 58.99) scale(0.7978 0.9022)" font-size="46.62">(</text><text transform="translate(0 61.90) scale(1.0177 1)" x="-1006.82 -978.45 -950.96 -938.86 -912.18 -887.69 -870.87 -830.08 -803.08 -774.62 -759.55 -729.58 -684.44" font-size="46.62">adjustment Wm</text><text transform="translate(-654.18 47.37) scale(1.2160 1.0989)" font-size="32.64">−</text><text transform="translate(0 45.10) scale(0.9589 1)" x="-655.93" font-size="32.64">2</text><text transform="translate(-605.37 58.99) scale(0.7978 0.9022)" font-size="46.62">)</text></g>
<g transform="rotate(-90)"><path transform="translate(-1678.55 62.30) scale(0.02148 -0.02148)" d="M76 -45Q63 -45 63 -31Q63 -23 70 -12Q85 12 115.0 41.5Q145 71 158 88Q210 163 240 221Q292 329 330 469Q386 692 431.5 831.0Q477 970 551 1094Q609 1190 694.0 1269.5Q779 1349 882.5 1396.5Q986 1444 1094 1444H1106Q1159 1444 1195.0 1417.5Q1231 1391 1249.5 1346.5Q1268 1302 1268 1251Q1268 1173 1243 1143Q1172 1066 1075 1053H1063Q1051 1053 1051 1067Q1051 1069 1056.0 1098.0Q1061 1127 1061 1147Q1061 1213 1028.0 1262.0Q995 1311 930 1311Q854 1311 854 1298Q798 1259 746.5 1168.5Q695 1078 656.5 972.5Q618 867 588.0 760.5Q558 654 535 561Q510 460 470.5 367.5Q431 275 377 193Q401 201 436 201H449Q520 201 591.0 186.5Q662 172 761.0 144.0Q860 116 926.0 102.5Q992 89 1065 88Q1087 88 1101.0 108.0Q1115 128 1128.5 163.5Q1142 199 1151 211Q1182 245 1227.0 270.0Q1272 295 1317 301H1329Q1335 301 1339.0 297.0Q1343 293 1343 287Q1343 287 1341 281Q1321 201 1247.0 123.5Q1173 46 1078.5 0.5Q984 -45 905 -45H893Q822 -45 754.0 -32.0Q686 -19 587.0 9.0Q488 37 417.5 52.0Q347 67 276 68Q185 -32 88 -45Z"/><text transform="translate(-1314.77 59.39) scale(0.7978 0.9022)" font-size="46.62">(</text><text transform="translate(-1253.96 59.39) scale(0.7978 0.9022)" font-size="46.62">)</text><text transform="translate(0 62.30) scale(1.0092 1)" x="-1618.81 -1591.57 -1564.01 -1538.52 -1509.59 -1483.10 -1458.40 -1430.18 -1389.10 -1361.87 -1333.23 -1318.09 -1287.24" font-size="46.62">enhancement %</text></g>
<text transform="translate(0 567.70) scale(0.9786 1)" x="478.93 510.95 523.75 550.69 581.20 617.58" font-size="46.62">ΔlnAOD</text>
<text transform="translate(0 571.40) scale(0.9934 1)" x="1014.20 1045.89 1058.39 1085.02" font-size="46.62">ΔlnN</text><text transform="translate(0 578.30) scale(1.0202 1)" x="1089.40" font-size="32.64" font-style="italic">d</text>
<text transform="translate(0 1168.50) scale(1.1710 1)" x="431.48" font-size="46.62" font-style="italic">f</text><text transform="translate(0 1175.80) scale(0.9821 1)" x="529.67" font-size="32.64" font-style="italic">l</text><text transform="translate(807.86 1165.59) scale(0.7978 0.9022)" font-size="46.62">(</text><text transform="translate(0 1168.50) scale(1.0177 1)" x="531.34 559.72 587.20 599.31 625.98 650.47 667.30 708.08 735.09 763.54 778.61 808.58 853.73" font-size="46.62">adjustment Wm</text><text transform="translate(911.22 1153.97) scale(1.2160 1.0989)" font-size="32.64">−</text><text transform="translate(0 1151.70) scale(0.9589 1)" x="976.51" font-size="32.64">2</text><text transform="translate(960.03 1165.59) scale(0.7978 0.9022)" font-size="46.62">)</text>
<text transform="translate(0 1792.40) scale(1.1710 1)" x="447.97" font-size="46.62" font-style="italic">f</text><text transform="translate(0 1799.70) scale(0.9821 1)" x="549.32" font-size="32.64" font-style="italic">l</text><text transform="translate(880.93 1789.49) scale(0.7978 0.9022)" font-size="46.62">(</text><text transform="translate(941.74 1789.49) scale(0.7978 0.9022)" font-size="46.62">)</text><text transform="translate(0 1792.40) scale(1.0092 1)" x="556.86 584.09 611.66 637.15 666.07 692.57 717.27 745.49 786.56 813.79 842.43 857.58 888.43" font-size="46.62">enhancement %</text></svg>
</body></html>
